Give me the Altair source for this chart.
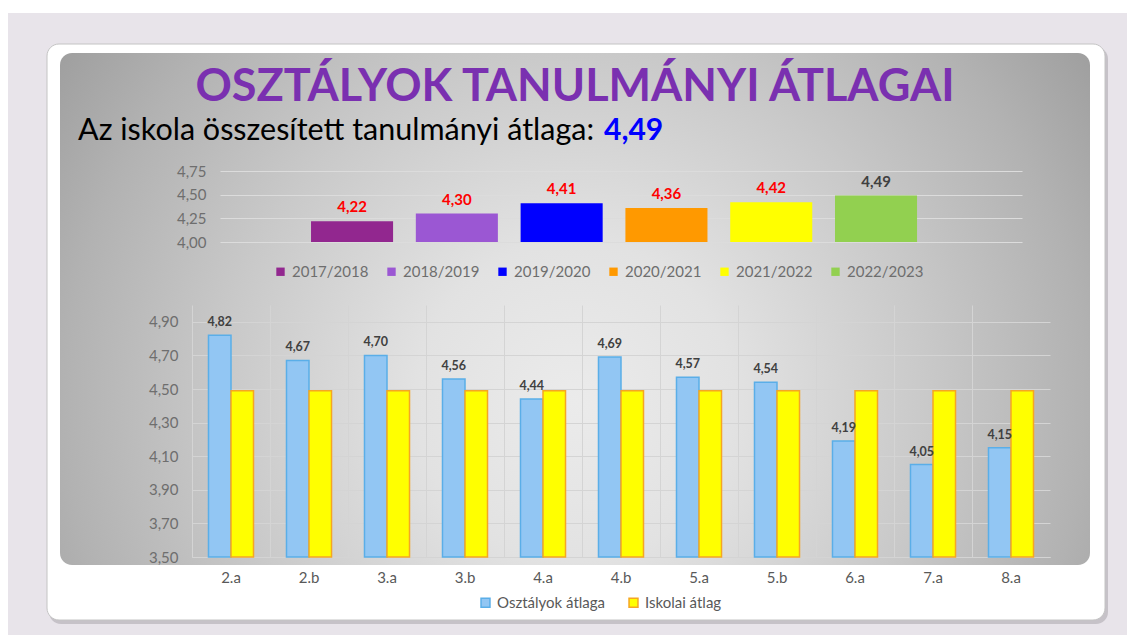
import altair as alt
import pandas as pd

# ---------------- data ----------------
title_text = "OSZTÁLYOK TANULMÁNYI ÁTLAGAI"
subtitle_text = "Az iskola összesített tanulmányi átlaga:"
school_overall = 4.49

seasons = ["2017/2018", "2018/2019", "2019/2020", "2020/2021", "2021/2022", "2022/2023"]
season_avgs = [4.22, 4.30, 4.41, 4.36, 4.42, 4.49]
season_colors = ["#92278f", "#9b57d3", "#0000ff", "#ff9900", "#ffff00", "#92d050"]
top_ticks = [4.00, 4.25, 4.50, 4.75]

classes = ["2.a", "2.b", "3.a", "3.b", "4.a", "4.b", "5.a", "5.b", "6.a", "7.a", "8.a"]
class_avgs = [4.82, 4.67, 4.70, 4.56, 4.44, 4.69, 4.57, 4.54, 4.19, 4.05, 4.15]
school_avgs = [4.49, 4.49, 4.49, 4.49, 4.49, 4.49, 4.49, 4.49, 4.49, 4.49, 4.49]
series_names = ["Osztályok átlaga", "Iskolai átlag"]
bottom_ticks = [3.50, 3.70, 3.90, 4.10, 4.30, 4.50, 4.70, 4.90]

comma_expr = "replace(format(datum.value, '.2f'), '.', ',')"
FONT = "Lato"
AXIS_GRAY = "#6e6e6e"

# ---------------- decoration / header cell ----------------
one = alt.Data(values=[{"k": 1}])


def box(x, x2, y, y2, **kw):
    return alt.Chart(one).mark_rect(**kw).encode(
        x=alt.value(x), x2=alt.value(x2), y=alt.value(y), y2=alt.value(y2)
    )


panel_fill = {
    "gradient": "radial",
    "x1": 0.5, "y1": 0.59, "r1": 0,
    "x2": 0.5, "y2": 0.59, "r2": 0.62,
    "stops": [
        {"offset": 0.0, "color": "#ebebeb"},
        {"offset": 0.25, "color": "#e2e2e2"},
        {"offset": 0.55, "color": "#c9c9c9"},
        {"offset": 0.8, "color": "#b2b2b2"},
        {"offset": 1.0, "color": "#9c9c9c"},
    ],
}

lavender = box(-184, 935, -94, 528, fill="#e8e4ea")
shadow = box(-143, 916, -60, 517, fill="#bdb9bf", cornerRadius=12, opacity=0.8)
card = box(-145, 913, -63, 513, fill="white", stroke="#c4c4c4", strokeWidth=1, cornerRadius=12)
panel = box(-132, 898, -54, 458, fill=panel_fill, cornerRadius=12)

title = alt.Chart(alt.Data(values=[{"t": title_text}])).mark_text(
    font=FONT, fontSize=45, fontWeight="bold", color="#7a30b0",
    align="center", baseline="alphabetic"
).encode(text="t:N", x=alt.value(383), y=alt.value(-6))

subtitle = alt.Chart(alt.Data(values=[{"t": subtitle_text}])).mark_text(
    font=FONT, fontSize=30.5, color="black", align="left", baseline="alphabetic"
).encode(text="t:N", x=alt.value(-114), y=alt.value(33))

overall = alt.Chart(alt.Data(values=[{"v": school_overall}])).transform_calculate(
    lab="replace(format(datum.v, '.2f'), '.', ',')"
).mark_text(
    font=FONT, fontSize=30, fontWeight="bold", color="#0000ff", align="left", baseline="alphabetic"
).encode(text="lab:N", x=alt.value(412), y=alt.value(33))

deco = alt.layer(lavender, shadow, card, panel, title, subtitle, overall).properties(width=858, height=1)

# ---------------- top chart: yearly averages ----------------
top_df = pd.DataFrame({"season": seasons, "avg": season_avgs})
base_top = alt.Chart(top_df).transform_calculate(
    label="replace(format(datum.avg, '.2f'), '.', ',')"
)
x_top = alt.X("season:N", sort=seasons,
              scale=alt.Scale(paddingInner=0.217, paddingOuter=0.935, align=0.4645), axis=None)

bars_top = base_top.mark_bar().encode(
    x=x_top,
    y=alt.Y("avg:Q",
            scale=alt.Scale(domain=[4.0, 4.75], zero=False, nice=False),
            axis=alt.Axis(values=top_ticks, tickCount=len(top_ticks), labelExpr=comma_expr,
                          title=None, grid=True, gridColor="#dcdcdc", domain=False, ticks=False,
                          labelPadding=14, labelOverlap=False,
                          labelFont=FONT, labelFontSize=15, labelColor=AXIS_GRAY)),
    y2=alt.datum(4.0),
    color=alt.Color("season:N", sort=seasons,
                    scale=alt.Scale(domain=seasons, range=season_colors),
                    legend=alt.Legend(orient="none", legendX=53, legendY=93,
                                      direction="horizontal", columns=6, title=None,
                                      symbolType="square", symbolSize=70, symbolStrokeWidth=0,
                                      labelFont=FONT, labelFontSize=15, labelColor=AXIS_GRAY,
                                      columnPadding=15, labelOffset=4, padding=0)),
)
labels_top = base_top.mark_text(
    font=FONT, fontSize=15, fontWeight="bold", baseline="alphabetic", dy=-9
).encode(
    x=x_top,
    y=alt.Y("avg:Q"),
    text="label:N",
    color=alt.condition(alt.datum.season == "2022/2023", alt.value("#404040"), alt.value("#ff0000")),
)
top = alt.layer(bars_top, labels_top).properties(width=802, height=71)

# ---------------- bottom chart: class averages ----------------
bot_df = pd.DataFrame({
    "cls": classes + classes,
    "series": [series_names[0]] * len(classes) + [series_names[1]] * len(classes),
    "v": class_avgs + school_avgs,
})
base_bot = alt.Chart(bot_df).transform_calculate(
    label="replace(format(datum.v, '.2f'), '.', ',')"
)
x_bot = alt.X("cls:N", sort=classes,
              scale=alt.Scale(paddingInner=0, paddingOuter=0),
              axis=alt.Axis(title=None, grid=True, bandPosition=0, gridColor="#d4d4d4",
                            domainColor="#d4d4d4", ticks=False, labelAngle=0,
                            labelFont=FONT, labelFontSize=15, labelColor="#595959",
                            labelPadding=13))
leg_bot = alt.Legend(orient="none", legendX=286, legendY=290, direction="horizontal",
                     columns=2, title=None, symbolType="square", symbolSize=80,
                     symbolStrokeWidth=1.5, labelFont=FONT, labelFontSize=15,
                     labelColor="#595959", columnPadding=20, labelOffset=4, padding=0)

bars_bot = base_bot.mark_bar(strokeWidth=1.5).encode(
    x=x_bot,
    xOffset=alt.XOffset("series:N", sort=series_names,
                        scale=alt.Scale(domain=series_names, paddingInner=0, paddingOuter=0.733)),
    y=alt.Y("v:Q",
            scale=alt.Scale(domain=[3.5, 5.0], zero=False, nice=False),
            axis=alt.Axis(values=bottom_ticks, tickCount=len(bottom_ticks), labelExpr=comma_expr,
                          title=None, grid=True, gridColor="#d4d4d4", domain=False, ticks=False,
                          labelPadding=14, labelOverlap=False,
                          labelFont=FONT, labelFontSize=15, labelColor=AXIS_GRAY)),
    y2=alt.datum(3.5),
    fill=alt.Fill("series:N", sort=series_names,
                  scale=alt.Scale(domain=series_names, range=["#92c6f3", "#ffff00"]),
                  legend=leg_bot),
    stroke=alt.Stroke("series:N", sort=series_names,
                      scale=alt.Scale(domain=series_names, range=["#5aaee8", "#f5a623"]),
                      legend=leg_bot),
)
labels_bot = base_bot.transform_filter(alt.datum.series == series_names[0]).mark_text(
    font=FONT, fontSize=12.5, fontWeight="bold", color="#404040", baseline="alphabetic", dy=-9
).encode(
    x=x_bot,
    xOffset=alt.XOffset("series:N", sort=series_names),
    y=alt.Y("v:Q"),
    text="label:N",
)
bottom = alt.layer(bars_bot, labels_bot).properties(width=858, height=252)

# ---------------- assemble ----------------
chart = alt.vconcat(deco, top, bottom, spacing=63, bounds="flush", center=True).resolve_scale(
    color="independent", fill="independent", stroke="independent", x="independent", y="independent"
).resolve_legend(
    color="independent", fill="independent", stroke="independent"
).properties(
    background="white",
    padding={"left": 0, "top": 5, "right": 0, "bottom": 0},
).configure_view(stroke=None)

chart.save("out.html", embed_options={"renderer": "svg", "actions": False})
